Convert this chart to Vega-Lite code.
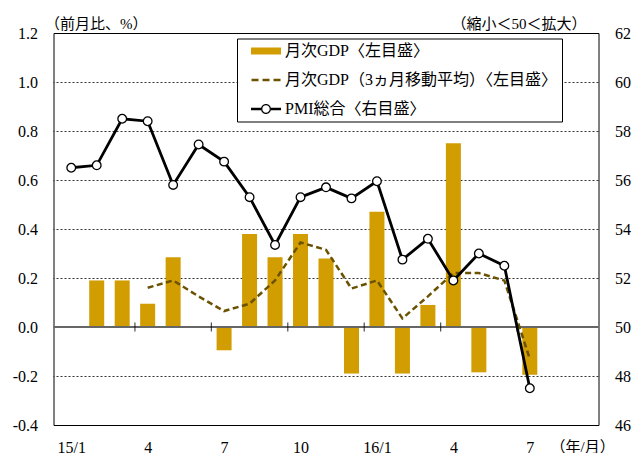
{
  "$schema": "https://vega.github.io/schema/vega-lite/v6.json",
  "autosize": {"type": "none"},
  "padding": {"left": 53.5, "top": 33, "right": 35.5, "bottom": 28},
  "width": 545,
  "height": 392,
  "background": "white",
  "config": {
    "view": {"stroke": "black", "strokeWidth": 1},
    "font": "Liberation Serif, Noto Sans CJK JP"
  },
  "datasets": {
    "m": [
      {"i": 0, "month": "15/1", "gdp": null, "ma3": null, "pmi": 56.5},
      {"i": 1, "month": "15/2", "gdp": 0.19, "ma3": null, "pmi": 56.6},
      {"i": 2, "month": "15/3", "gdp": 0.19, "ma3": null, "pmi": 58.5},
      {"i": 3, "month": "15/4", "gdp": 0.095, "ma3": 0.16, "pmi": 58.4},
      {"i": 4, "month": "15/5", "gdp": 0.285, "ma3": 0.19, "pmi": 55.8},
      {"i": 5, "month": "15/6", "gdp": 0.0, "ma3": 0.125, "pmi": 57.45},
      {"i": 6, "month": "15/7", "gdp": -0.095, "ma3": 0.065, "pmi": 56.75},
      {"i": 7, "month": "15/8", "gdp": 0.38, "ma3": 0.095, "pmi": 55.3},
      {"i": 8, "month": "15/9", "gdp": 0.285, "ma3": 0.19, "pmi": 53.35},
      {"i": 9, "month": "15/10", "gdp": 0.38, "ma3": 0.345, "pmi": 55.3},
      {"i": 10, "month": "15/11", "gdp": 0.28, "ma3": 0.315, "pmi": 55.7},
      {"i": 11, "month": "15/12", "gdp": -0.19, "ma3": 0.157, "pmi": 55.25},
      {"i": 12, "month": "16/1", "gdp": 0.47, "ma3": 0.19, "pmi": 55.95},
      {"i": 13, "month": "16/2", "gdp": -0.19, "ma3": 0.035, "pmi": 52.75},
      {"i": 14, "month": "16/3", "gdp": 0.09, "ma3": 0.125, "pmi": 53.6},
      {"i": 15, "month": "16/4", "gdp": 0.75, "ma3": 0.22, "pmi": 51.9},
      {"i": 16, "month": "16/5", "gdp": -0.185, "ma3": 0.22, "pmi": 53.0},
      {"i": 17, "month": "16/6", "gdp": 0.0, "ma3": 0.19, "pmi": 52.5},
      {"i": 18, "month": "16/7", "gdp": -0.195, "ma3": -0.13, "pmi": 47.5}
    ]
  },
  "resolve": {"scale": {"y": "independent"}},
  "layer": [
    {
      "data": {"values": [{"g": -0.2}, {"g": 0.2}, {"g": 0.4}, {"g": 0.6}, {"g": 0.8}, {"g": 1.0}]},
      "mark": {"type": "rule", "color": "#333333", "strokeWidth": 1, "strokeDash": [2, 2], "yOffset": 0.5},
      "encoding": {
        "y": {"field": "g", "type": "quantitative", "scale": {"domain": [-0.4, 1.2], "nice": false, "zero": false}, "axis": null}
      }
    },
    {
      "data": {"name": "m"},
      "mark": {"type": "bar", "orient": "vertical", "size": 15},
      "encoding": {
        "x": {
          "field": "i", "type": "quantitative",
          "scale": {"domain": [-0.5, 20.5], "nice": false, "zero": false},
          "axis": {
            "orient": "bottom",
            "values": [0, 3, 6, 9, 12, 15, 18],
            "labelExpr": "datum.value === 0 ? '15/1' : datum.value === 12 ? '16/1' : '' + (datum.value % 12 + 1)",
            "labelFont": "Liberation Serif",
            "labelFontSize": 16,
            "labelColor": "black",
            "labelPadding": 14,
            "labelFlush": false,
            "labelOverlap": false,
            "labelBaseline": "top",
            "domain": false,
            "ticks": false,
            "grid": false,
            "title": "（年/月）",
            "titleFont": "Liberation Serif, Noto Sans CJK JP",
            "titleFontSize": 15,
            "titleFontWeight": "normal",
            "titleColor": "black",
            "titleX": 496.5,
            "titleY": 14.5,
            "titleAlign": "left",
            "titleBaseline": "top"
          }
        },
        "y": {
          "field": "gdp", "type": "quantitative",
          "scale": {"domain": [-0.4, 1.2], "nice": false, "zero": false},
          "axis": {
            "orient": "left",
            "values": [-0.4, -0.2, 0, 0.2, 0.4, 0.6, 0.8, 1.0, 1.2],
            "labelExpr": "datum.value < 0 ? '-' + format(-datum.value, '.1f') : format(datum.value, '.1f')",
            "labelFont": "Liberation Serif",
            "labelFontSize": 16,
            "labelColor": "black",
            "labelPadding": 16,
            "labelFlush": false,
            "labelOverlap": false,
            "domain": false,
            "ticks": false,
            "grid": false,
            "title": "（前月比、%）",
            "titleFont": "Liberation Serif, Noto Sans CJK JP",
            "titleFontSize": 15,
            "titleFontWeight": "normal",
            "titleColor": "black",
            "titleAngle": 0,
            "titleAlign": "left",
            "titleBaseline": "middle",
            "titleX": -9,
            "titleY": -9.5
          }
        },
        "color": {
          "datum": "月次GDP〈左目盛〉",
          "type": "nominal",
          "scale": {
            "domain": ["月次GDP〈左目盛〉", "月次GDP（3ヵ月移動平均）〈左目盛〉", "PMI総合〈右目盛〉"],
            "range": ["#d29d00", "#6b5200", "black"]
          },
          "legend": {
            "title": null,
            "orient": "none",
            "legendX": 183.5,
            "legendY": 5.5,
            "padding": 4.5,
            "fillColor": "white",
            "strokeColor": "black",
            "labelFont": "Liberation Serif, Noto Sans CJK JP",
            "labelFontSize": 16,
            "labelColor": "black",
            "labelLimit": 400,
            "labelOffset": 11,
            "labelExpr": "datum.label + '\u2002\u2005'",
            "symbolSize": 256,
            "symbolOffset": 16.5,
            "rowPadding": 13,
            "encode": {
              "symbols": {
                "update": {
                  "shape": {"signal": "indexof(datum.value,'PMI')>=0 ? 'M-1.875,-0.1625H-0.625V0.1625H-1.875ZM0.625,-0.1625H1.875V0.1625H0.625ZM0.625,0C0.625,0.345 0.345,0.625 0,0.625C-0.345,0.625 -0.625,0.345 -0.625,0C-0.625,-0.345 -0.345,-0.625 0,-0.625C0.345,-0.625 0.625,-0.345 0.625,0ZM0.4625,0C0.4625,-0.2554 0.2554,-0.4625 0,-0.4625C-0.2554,-0.4625 -0.4625,-0.2554 -0.4625,0C-0.4625,0.2554 -0.2554,0.4625 0,0.4625C0.2554,0.4625 0.4625,0.2554 0.4625,0Z' : indexof(datum.value,'3')>=0 ? 'M-1.8125,-0.15H-0.9375V0.15H-1.8125ZM-0.4375,-0.15H0.4375V0.15H-0.4375ZM0.9375,-0.15H1.8125V0.15H0.9375Z' : 'M-1.875,-0.4375H1.875V0.4375H-1.875Z'"},
                  "strokeWidth": {"value": 0},
                  "opacity": {"value": 1}
                }
              }
            }
          }
        }
      }
    },
    {
      "data": {"values": [{}]},
      "mark": {"type": "rule", "color": "#666666", "strokeWidth": 2},
      "encoding": {
        "y": {"datum": 0, "type": "quantitative", "scale": {"domain": [-0.4, 1.2], "nice": false, "zero": false}, "axis": null}
      }
    },
    {
      "data": {"values": [{"b": 2.5}, {"b": 5.5}, {"b": 8.5}, {"b": 11.5}, {"b": 14.5}, {"b": 17.5}]},
      "mark": {"type": "tick", "orient": "vertical", "size": 9, "thickness": 1.2, "color": "black"},
      "encoding": {
        "x": {"field": "b", "type": "quantitative"},
        "y": {"datum": 0, "type": "quantitative", "scale": {"domain": [-0.4, 1.2], "nice": false, "zero": false}, "axis": null}
      }
    },
    {
      "data": {"name": "m"},
      "mark": {"type": "line", "strokeDash": [6, 3.5], "strokeWidth": 2.5},
      "encoding": {
        "x": {"field": "i", "type": "quantitative"},
        "y": {"field": "ma3", "type": "quantitative", "scale": {"domain": [-0.4, 1.2], "nice": false, "zero": false}, "axis": null},
        "color": {"datum": "月次GDP（3ヵ月移動平均）〈左目盛〉", "type": "nominal"}
      }
    },
    {
      "data": {"name": "m"},
      "mark": {"type": "line", "strokeWidth": 2.8},
      "encoding": {
        "x": {"field": "i", "type": "quantitative"},
        "y": {
          "field": "pmi", "type": "quantitative",
          "scale": {"domain": [46, 62], "nice": false, "zero": false},
          "axis": {
            "orient": "right",
            "values": [46, 48, 50, 52, 54, 56, 58, 60, 62],
            "labelFont": "Liberation Serif",
            "labelFontSize": 16,
            "labelColor": "black",
            "labelPadding": 16,
            "labelAlign": "left",
            "labelFlush": false,
            "labelOverlap": false,
            "domain": false,
            "ticks": false,
            "grid": false,
            "title": "（縮小＜50＜拡大）",
            "titleFont": "Liberation Serif, Noto Sans CJK JP",
            "titleFontSize": 15,
            "titleFontWeight": "normal",
            "titleColor": "black",
            "titleAngle": 0,
            "titleAlign": "right",
            "titleBaseline": "middle",
            "titleX": -12.5,
            "titleY": -9.5
          }
        },
        "color": {"datum": "PMI総合〈右目盛〉", "type": "nominal"}
      }
    },
    {
      "data": {"name": "m"},
      "mark": {"type": "point", "filled": true, "fill": "white", "stroke": "black", "strokeWidth": 1.3, "size": 75, "opacity": 1},
      "encoding": {
        "x": {"field": "i", "type": "quantitative"},
        "y": {"field": "pmi", "type": "quantitative", "scale": {"domain": [46, 62], "nice": false, "zero": false}, "axis": null}
      }
    }
  ]
}
